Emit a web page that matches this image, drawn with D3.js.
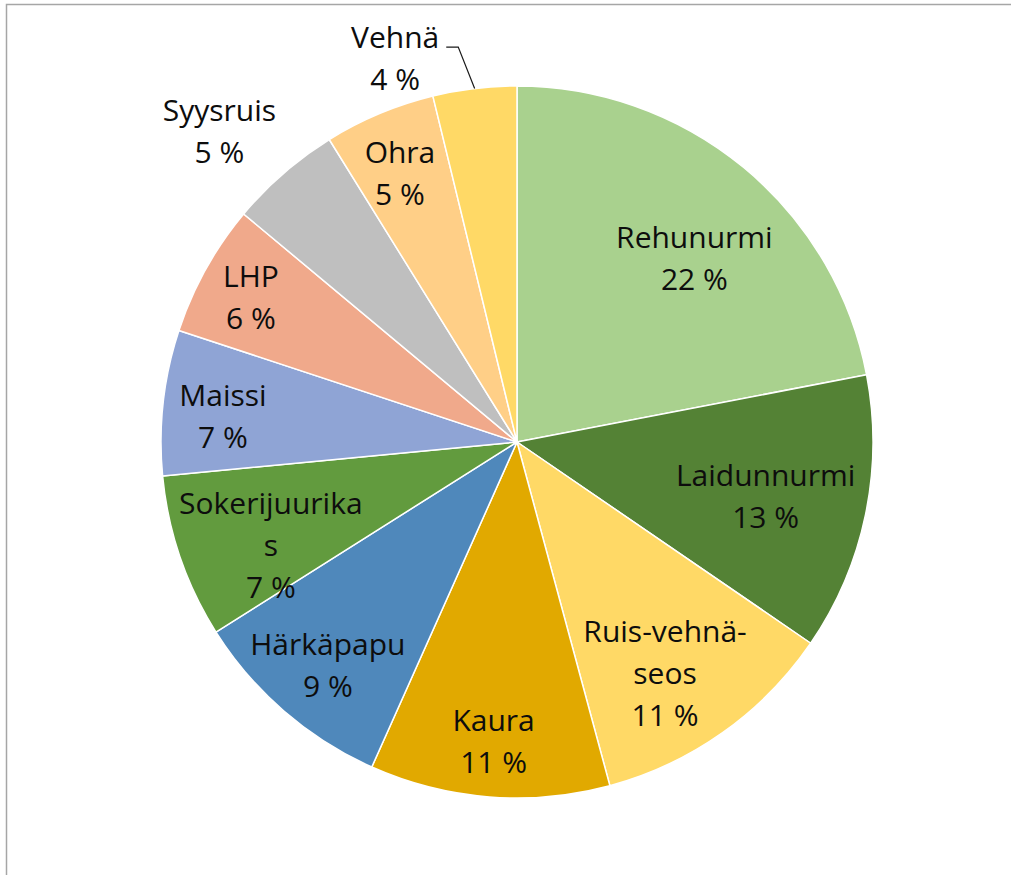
<!DOCTYPE html>
<html>
<head>
<meta charset="utf-8">
<script src="https://cdn.jsdelivr.net/npm/d3@7"></script>
<style>
  html, body { margin: 0; padding: 0; background: #fff; }
  svg { display: block; }
</style>
</head>
<body>
<svg id="chart" width="1011" height="875"></svg>
<script>
// ---- data ----
const categories = ["Rehunurmi", "Laidunnurmi", "Ruis-vehnäseos", "Kaura", "Härkäpapu",
  "Sokerijuurikas", "Maissi", "LHP", "Syysruis", "Ohra", "Vehnä"];
const values = [22.0, 12.6, 11.25, 10.9, 9.36, 7.45, 6.6, 6.0, 5.1, 5.05, 3.8];
const labelLines = [["Rehunurmi"], ["Laidunnurmi"], ["Ruis-vehnä-", "seos"], ["Kaura"], ["Härkäpapu"],
  ["Sokerijuurika", "s"], ["Maissi"], ["LHP"], ["Syysruis"], ["Ohra"], ["Vehnä"]];
const colors = ["#A9D18E", "#548235", "#FFD966", "#E1A900", "#4F88BB",
  "#629B3E", "#8FA4D5", "#F0A98B", "#BFBFBF", "#FFCF87", "#FFD966"];

// ---- label layout (angle offset in degrees from slice middle, radius fraction) ----
const labelLayout = [[4.55, 0.716], [0.6, 0.715], [2.8, 0.773], [0, 0.843], [-0.7, 0.823],
  [-3.9, 0.75], [-1.45, 0.829], [-0.5, 0.851], [-2.8, 1.208], [-0.8, 0.823], [-10.8, 1.13]];
const leaderFor = ["Vehnä"];

const svg = d3.select("#chart");
const W = 1011, H = 875;
const cx = 517, cy = 442, R = 356;
const fontSize = 30, lineH = 42, capH = 21;

// border
svg.append("rect").attr("x", 6.5).attr("y", 4.5).attr("width", W + 20).attr("height", H + 20)
  .attr("fill", "none").attr("stroke", "#a6a6a6").attr("stroke-width", 1.5);

const data = categories.map((c, i) => ({ name: c, value: values[i], lines: labelLines[i], color: colors[i], lay: labelLayout[i] }));
const total = d3.sum(values);

const pie = d3.pie().value(d => d.value).sort(null);
const arc = d3.arc().innerRadius(0).outerRadius(R);
const arcs = pie(data);

const g = svg.append("g").attr("transform", `translate(${cx},${cy})`);

g.selectAll("path.slice").data(arcs).join("path")
  .attr("class", "slice")
  .attr("d", arc)
  .attr("fill", d => d.data.color)
  .attr("stroke", "#fff")
  .attr("stroke-width", 1.5)
  .attr("stroke-linejoin", "round");

const toRad = Math.PI / 180;
const lbl = g.selectAll("g.lbl").data(arcs).join("g").attr("class", "lbl");

lbl.each(function (d) {
  const mid = (d.startAngle + d.endAngle) / 2;
  const a = mid + d.data.lay[0] * toRad;
  const r = d.data.lay[1] * R;
  const x = Math.sin(a) * r;
  const y = -Math.cos(a) * r;
  const pct = Math.round(d.value / total * 100) + " %";
  const lines = d.data.lines.concat([pct]);
  const n = lines.length;
  const firstBase = y + capH / 2 - (n - 1) * lineH / 2;
  const t = d3.select(this).append("text")
    .attr("text-anchor", "middle")
    .attr("font-family", "'Open Sans', 'Noto Sans', sans-serif")
    .attr("font-size", fontSize)
    .attr("fill", "#0d0d0d");
  lines.forEach((ln, k) => {
    t.append("tspan").attr("x", x).attr("y", firstBase + k * lineH).text(ln);
  });
  if (leaderFor.includes(d.data.name)) {
    const w = t.select("tspan").node().getComputedTextLength();
    const sx = x + w / 2 + 7, sy = firstBase - 1;
    const ex = Math.sin(mid) * R, ey = -Math.cos(mid) * R;
    d3.select(this).append("path")
      .attr("d", d3.line()([[sx, sy], [sx + 12, sy], [ex, ey]]))
      .attr("fill", "none").attr("stroke", "#1a1a1a").attr("stroke-width", 1.2);
  }
});
</script>
</body>
</html>
